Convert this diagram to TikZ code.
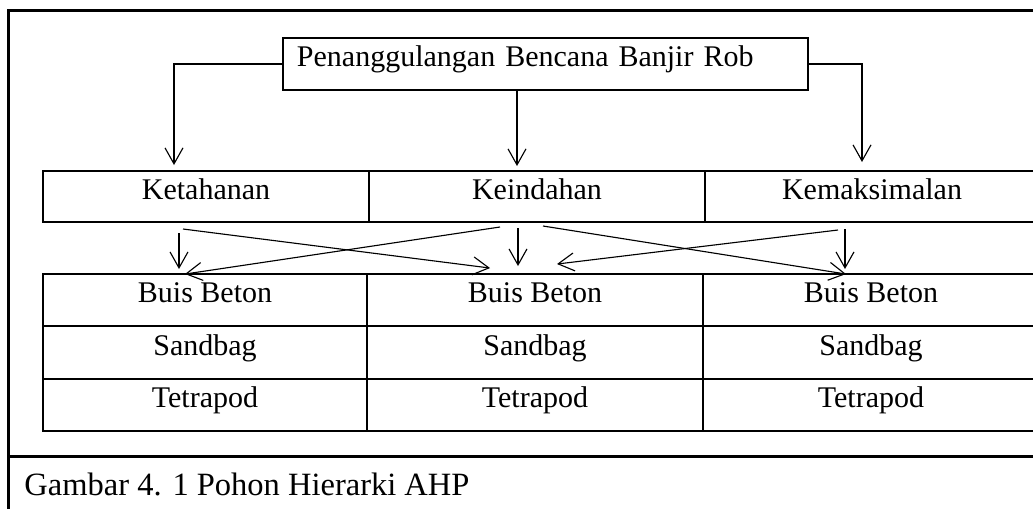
\documentclass[tikz,border=0pt]{standalone}
\usepackage{fontspec}
\setmainfont{Liberation Serif}
\usetikzlibrary{arrows.meta}

\tikzset{
  cell/.style={draw,line width=0.8pt,inner sep=0pt,text height=8pt,text depth=6pt},
  arr/.style={-{Straight Barb[length=6.4pt,width=7.2pt]},line width=0.45pt},
}

\begin{document}
\begin{tikzpicture}[x=0.4pt,y=-0.4pt,font=\fontsize{12}{14}\selectfont]
  \useasboundingbox (0,0) rectangle (1033,508);
  \draw[line width=1.2pt] (1060,10) -| (8,530);
  \draw[line width=1.2pt] (8,456) -- (1060,456);
  \node[cell,minimum width=210pt,minimum height=20.8pt,text width=198.8pt,
    inner xsep=5.6pt,align=left] (root) at (545.5,64) {Penanggulangan Bencana Banjir Rob};
  \node[cell,minimum width=130.4pt,minimum height=20.4pt] (ket) at (206,196.5) {Ketahanan};
  \node[cell,minimum width=134.4pt,minimum height=20.4pt] (ind) at (537,196.5) {Keindahan};
  \node[cell,minimum width=133.6pt,minimum height=20.4pt] (mak) at (872,196.5) {Kemaksimalan};
  \foreach \c/\x/\w in {1/205/129.6pt,2/535/134.4pt,3/871/134.4pt} {
    \node[cell,minimum width=\w,minimum height=20.93pt] (bb\c) at (\x,300.2) {Buis Beton};
    \node[cell,minimum width=\w,minimum height=20.93pt] (sb\c) at (\x,352.5) {Sandbag};
    \node[cell,minimum width=\w,minimum height=20.93pt] (tp\c) at (\x,404.8) {Tetrapod};
  }
  \draw[arr] (root.west) -| ([shift={(-32,-5)}]ket.north);
  \draw[arr] ([shift={(-28.5,0)}]root.south) -- ([shift={(-20,-4)}]ind.north);
  \draw[arr] (root.east) -| ([shift={(-10,-8)}]mak.north);
  \draw[arr] ([shift={(-27,10)}]ket.south) -- ([shift={(-26,-4)}]bb1.north);
  \draw[arr] ([shift={(-19,5)}]ind.south) -- ([shift={(-17,-7)}]bb2.north);
  \draw[arr] ([shift={(-27,6)}]mak.south) -- ([shift={(-26,-4)}]bb3.north);
  \draw[arr] ([shift={(-23,6)}]ket.south) -- ([shift={(-45,-5)}]bb2.north);
  \draw[arr] ([shift={(-37,4)}]ind.south) -- ([shift={(-20,1)}]bb1.north);
  \draw[arr] ([shift={(6,3)}]ind.south) -- ([shift={(-25,1)}]bb3.north);
  \draw[arr] ([shift={(-34,7)}]mak.south) -- ([shift={(22,-9)}]bb2.north);
  \node[anchor=base west,inner sep=0pt,font=\fontsize{13}{15}\selectfont] (cap) at (24,495)
    {Gambar 4. 1 Pohon Hierarki AHP};
\end{tikzpicture}
\end{document}
